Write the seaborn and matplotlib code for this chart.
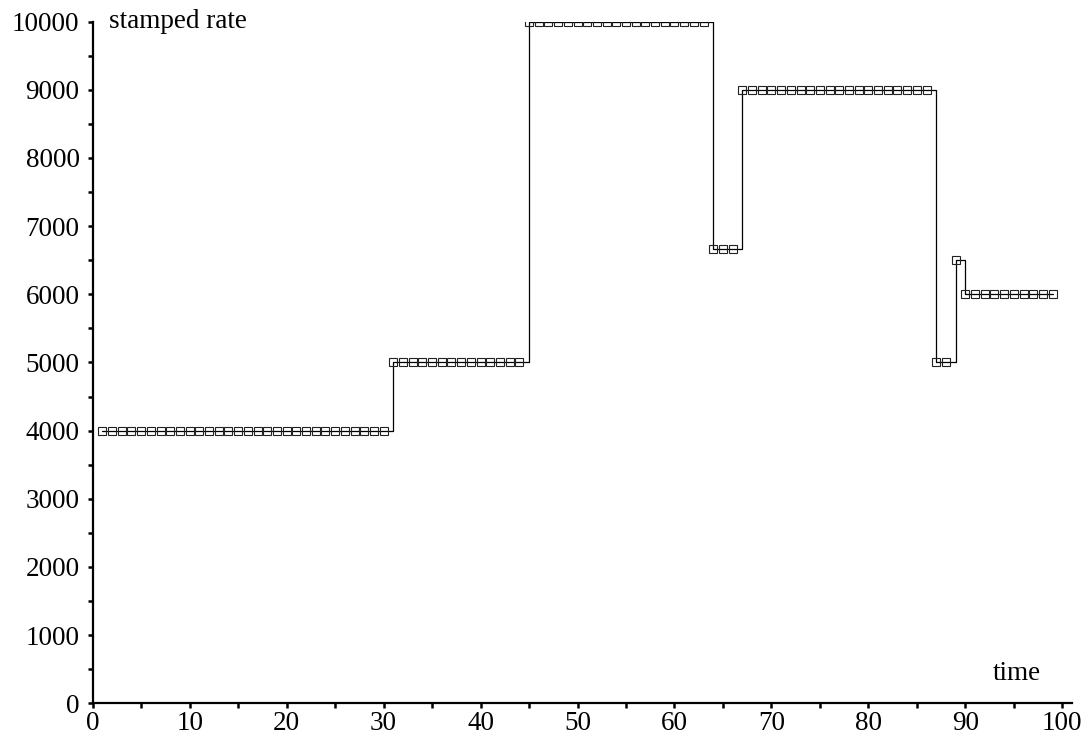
import matplotlib
matplotlib.use("Agg")
import matplotlib.pyplot as plt
from matplotlib.ticker import MultipleLocator
import seaborn as sns
import pandas as pd

time = list(range(1, 100))
stamped_rate = [
    4000, 4000, 4000, 4000, 4000, 4000, 4000, 4000, 4000, 4000,
    4000, 4000, 4000, 4000, 4000, 4000, 4000, 4000, 4000, 4000,
    4000, 4000, 4000, 4000, 4000, 4000, 4000, 4000, 4000, 4000,
    5000, 5000, 5000, 5000, 5000, 5000, 5000, 5000, 5000, 5000,
    5000, 5000, 5000, 5000,
    10000, 10000, 10000, 10000, 10000, 10000, 10000, 10000, 10000, 10000,
    10000, 10000, 10000, 10000, 10000, 10000, 10000, 10000, 10000,
    6667, 6667, 6667,
    9000, 9000, 9000, 9000, 9000, 9000, 9000, 9000, 9000, 9000,
    9000, 9000, 9000, 9000, 9000, 9000, 9000, 9000, 9000, 9000,
    5000, 5000,
    6500,
    6000, 6000, 6000, 6000, 6000, 6000, 6000, 6000, 6000, 6000,
]
x_ticks = [0, 10, 20, 30, 40, 50, 60, 70, 80, 90, 100]
y_ticks = [0, 1000, 2000, 3000, 4000, 5000, 6000, 7000, 8000, 9000, 10000]

df = pd.DataFrame({"time": time, "rate": stamped_rate})

sns.set_theme(style="white")
plt.rcParams["font.family"] = ["Liberation Serif", "DejaVu Serif"]

fig = plt.figure(figsize=(10.92, 7.45), dpi=100)
ax = fig.add_axes([0.0849, 0.056, 0.8968, 0.915])

sns.lineplot(data=df, x="time", y="rate", ax=ax, drawstyle="steps-post",
             color="black", linewidth=0.9, marker="s", markersize=5.5,
             markerfacecolor="none", markeredgecolor="#222222",
             markeredgewidth=0.8)

ax.set_xlim(0, 101)
ax.set_ylim(0, 10000)
ax.set_xticks(x_ticks)
ax.set_yticks(y_ticks)
ax.set_xticklabels([str(v) for v in x_ticks])
ax.set_yticklabels([str(v) for v in y_ticks])
ax.xaxis.set_minor_locator(MultipleLocator(5))
ax.yaxis.set_minor_locator(MultipleLocator(500))

for side in ["top", "right"]:
    ax.spines[side].set_visible(False)
for side in ["left", "bottom"]:
    ax.spines[side].set_linewidth(1.6)
    ax.spines[side].set_color("black")

ax.tick_params(axis="both", which="both", direction="out", color="black",
               width=1.8, length=3.5, labelsize=19.5, labelcolor="black",
               bottom=True, left=True, top=False, right=False)
ax.tick_params(axis="x", which="major", pad=2)
ax.tick_params(axis="y", which="major", pad=6)
ax.set_xlabel("")
ax.set_ylabel("")

ax.text(0.017, 1.0, "stamped rate", transform=ax.transAxes, fontsize=19.5,
        ha="left", va="center", color="black")
ax.text(95.3, 430, "time", fontsize=19.5, ha="center", va="center", color="black")

fig.savefig("out.png", dpi=100)
